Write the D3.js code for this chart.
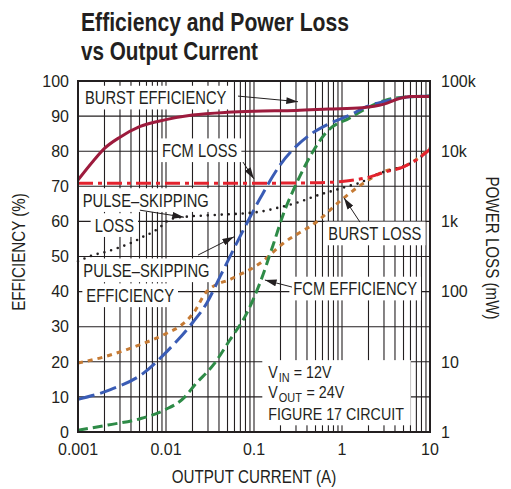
<!DOCTYPE html>
<html>
<head>
<meta charset="utf-8">
<script src="https://cdn.jsdelivr.net/npm/d3@7"></script>
<style>
  body { margin: 0; background: #fff; }
  svg text { font-family: "Liberation Sans", Arial, sans-serif; fill: #231f20; }
  .tick-label { font-size: 16px; }
</style>
</head>
<body>
<div id="chart"></div>
<script>
// Eixos
const currentTicks = [0.001, 0.01, 0.1, 1, 10];
const currentTickLabels = ["0.001", "0.01", "0.1", "1", "10"];
const efficiencyTicks = [0, 10, 20, 30, 40, 50, 60, 70, 80, 90, 100];
const lossTicks = [1, 10, 100, 1000, 10000, 100000];
const lossTickLabels = ["1", "10", "100", "1k", "10k", "100k"];

// Sèries: [corrent (A), eficiència (%)]
const burstEfficiency = [[0.001,71.8],[0.0015,77.3],[0.002,80.8],[0.003,84],[0.005,87],[0.01,89],[0.02,90.3],[0.05,91.1],[0.1,91.4],[0.3,91.6],[0.7,92],[1.7,92.4],[3,93.4],[4.5,95],[6,95.6],[10,95.6]];
const pulseSkippingEfficiency = [[0.001,9.3],[0.0023,12],[0.0055,16.7],[0.0102,22.9],[0.0204,31.4],[0.029,36.7],[0.041,44.2],[0.0755,57.5],[0.117,66.5],[0.197,76],[0.305,81.5],[0.45,85],[0.67,87.5],[1.23,90.3],[1.9,92.7],[2.93,94.1],[5.9,95.5],[10,95.7]];
const fcmEfficiency = [[0.001,0.5],[0.0022,2],[0.0053,3.9],[0.0097,6.3],[0.0164,10],[0.0212,13.4],[0.0345,19.1],[0.0531,26.2],[0.0826,33.8],[0.117,42.5],[0.166,53.5],[0.215,62],[0.306,71],[0.47,80],[0.67,85.5],[1.23,89.5],[1.9,92.2],[3.2,94.6],[5.9,95.5],[10,95.7]];

// Sèries: [corrent (A), pèrdua (mW)]
const fcmLoss = [[0.001,3500],[0.1,3500],[0.5,3550],[1,3700],[1.5,3950],[2,4250],[3,5000],[5,6000],[7,7500],[10,10700]];
const pulseSkippingLoss = [[0.001,270],[0.0015,332],[0.0021,370],[0.0031,436],[0.0043,514],[0.0055,606],[0.0072,713],[0.0087,841],[0.0102,1000],[0.0122,1107],[0.017,1167],[0.035,1232],[0.117,1375],[0.2,1600],[0.33,1900],[0.5,2300],[0.8,2750],[1.2,3200],[1.6,3550],[2.5,4700],[4,5600],[6,6700],[10,10500]];
const burstLoss = [[0.001,9.6],[0.002,11.8],[0.0044,16.4],[0.0102,25.5],[0.015,33.4],[0.0204,49],[0.029,100],[0.0576,156],[0.117,253],[0.215,488],[0.516,990],[1.035,2130],[1.75,3490],[2.95,5100],[4.97,6010],[7.7,8350],[10,11000]];

// Etiquetes: [corrent, eficiència] de la línia base del text
const labels = [
    { lines: ["BURST EFFICIENCY"], at: [0.0012, 93.4] },
    { lines: ["FCM LOSS"], at: [0.009, 78.4] },
    { lines: ["PULSE–SKIPPING", "LOSS"], at: [0.00113, 64.2], indent: [0, 12] },
    { lines: ["PULSE–SKIPPING", "EFFICIENCY"], at: [0.00115, 44.2], indent: [0, 3] },
    { lines: ["BURST LOSS"], at: [0.699, 54.7] },
    { lines: ["FCM EFFICIENCY"], at: [0.28, 39] }
];
// Condicions: [text principal, subíndex, resta] i línia base en eficiència
const conditions = [
    { parts: ["V", "IN", "= 12V"], at: 15.3 },
    { parts: ["V", "OUT", "= 24V"], at: 9.6 },
    { parts: ["FIGURE 17 CIRCUIT"], at: 3.4 }
];
const conditionsCurrent = 0.1454;
// Fletxes: de [corrent, eficiència] a [corrent, eficiència]
const arrows = [
    [[0.0658, 95.7], [0.316, 94.1]],
    [[0.075, 76.9], [0.1, 72.1]],
    [[0.00505, 63.2], [0.016, 61.2]],
    [[0.0231, 50.4], [0.0593, 55.6]],
    [[1.6, 59.8], [1.054, 66.7]],
    [[0.27, 41.3], [0.133, 43.3]]
];

const W = 511, H = 489;
const margin = { top: 81, right: 81, bottom: 57, left: 78 };
const width = W - margin.left - margin.right;
const height = H - margin.top - margin.bottom;

// Text estret amb escala horitzontal (no hi ha font condensada instal·lada).
// Torna l'amplada i la caixa (en coordenades del pare).
function narrowText(parent, tx, ty, str, size, f, transform) {
    const wrap = parent.append("g").attr("transform", (transform || `translate(${tx},${ty})`) + ` scale(${f},1)`);
    const el = wrap.append("text").attr("font-size", size).text(str);
    const b = el.node().getBBox();
    return { width: b.width * f, top: ty + b.y, height: b.height, el };
}

const svg = d3.select("#chart").append("svg").attr("width", W).attr("height", H);

// Títol
const title = svg.append("g").attr("font-weight", "bold").attr("font-size", 26);
title.append("text").attr("x", 81).attr("y", 31).attr("textLength", 268).attr("lengthAdjust", "spacingAndGlyphs").text("Efficiency and Power Loss");
title.append("text").attr("x", 81).attr("y", 60).attr("textLength", 177).attr("lengthAdjust", "spacingAndGlyphs").text("vs Output Current");

const g = svg.append("g").attr("transform", `translate(${margin.left},${margin.top})`);

const x = d3.scaleLog().domain([0.001, 10]).range([0, width]);
const y = d3.scaleLinear().domain([0, 100]).range([height, 0]);
const yLoss = d3.scaleLog().domain([1, 100000]).range([height, 0]);

// Graella
const minor = [];
for (let e = -3; e < 1; e++) for (let k = 2; k <= 9; k++) minor.push(k * Math.pow(10, e));
g.append("g").selectAll("line").data(minor.concat(currentTicks)).join("line")
    .attr("x1", d => x(d)).attr("x2", d => x(d)).attr("y1", 0).attr("y2", height)
    .attr("stroke", "#231f20").attr("stroke-width", 1.1);
g.append("g").selectAll("line").data(efficiencyTicks).join("line")
    .attr("x1", 0).attr("x2", width).attr("y1", d => y(d)).attr("y2", d => y(d))
    .attr("stroke", "#231f20").attr("stroke-width", 1.1);

const boxLayer = g.append("g");
const curveLayer = g.append("g");
const textLayer = g.append("g");

const line = (sy) => d3.line().x(d => x(d[0])).y(d => sy(d[1])).curve(d3.curveMonotoneX);

const series = [
    { data: burstLoss, sy: yLoss, color: "#c67b35", dash: "5,5", w: 3 },
    { data: fcmEfficiency, sy: y, color: "#2e8b47", dash: "10,5", w: 3 },
    { data: pulseSkippingEfficiency, sy: y, color: "#3a5cb5", dash: "17,6", w: 3 },
    { data: pulseSkippingLoss, sy: yLoss, color: "#231f20", dash: "0,7", w: 2.6, cap: "round" },
    { data: fcmLoss, sy: yLoss, color: "#e3232e", dash: "15,5,4,5", w: 3 },
    { data: burstEfficiency, sy: y, color: "#9d1b3d", dash: null, w: 3 }
];
series.forEach(s => {
    curveLayer.append("path")
        .attr("d", line(s.sy)(s.data))
        .attr("fill", "none")
        .attr("stroke", s.color)
        .attr("stroke-width", s.w)
        .attr("stroke-dasharray", s.dash)
        .attr("stroke-linecap", s.cap || "butt");
});

// Etiquetes amb fons blanc
labels.forEach(l => {
    l.lines.forEach((t, i) => {
        const tx = x(l.at[0]) + (l.indent ? l.indent[i] : 0);
        const ty = y(l.at[1]) + i * 25;
        const r = narrowText(textLayer, tx, ty, t, 18, 0.82);
        boxLayer.append("rect").attr("x", tx - 4).attr("y", r.top - 2).attr("width", r.width + 8).attr("height", r.height + 4).attr("fill", "#fff");
    });
});

// Caixa de condicions (cada tros és un text separat)
const cond = textLayer.append("g");
const condLeft = x(conditionsCurrent);
let condRight = 0, condTop = Infinity, condBottom = 0;
conditions.forEach(c => {
    let cx = condLeft;
    const by = y(c.at);
    c.parts.forEach((p, i) => {
        const r = narrowText(cond, cx, i === 1 ? by + 4 : by, p, i === 1 ? 13 : 17, 0.84);
        cx += r.width + (i === 1 ? 4 : 0.5);
        condTop = Math.min(condTop, r.top);
        condBottom = Math.max(condBottom, r.top + r.height);
    });
    condRight = Math.max(condRight, cx);
});
boxLayer.append("rect").attr("x", condLeft - 6).attr("y", condTop - 3).attr("width", condRight - condLeft + 12).attr("height", condBottom - condTop + 5).attr("fill", "#fff");

// Fletxes
svg.append("defs").append("marker")
    .attr("id", "arrowhead").attr("viewBox", "0 0 10 6").attr("refX", 10).attr("refY", 3)
    .attr("markerWidth", 12).attr("markerHeight", 7).attr("markerUnits", "userSpaceOnUse").attr("orient", "auto")
    .append("path").attr("d", "M0,0L10,3L0,6Z").attr("fill", "#231f20");
textLayer.selectAll(".arrow").data(arrows).join("line")
    .attr("class", "arrow")
    .attr("x1", d => x(d[0][0])).attr("y1", d => y(d[0][1]))
    .attr("x2", d => x(d[1][0])).attr("y2", d => y(d[1][1]))
    .attr("stroke", "#231f20").attr("stroke-width", 1)
    .attr("marker-end", "url(#arrowhead)");

// Marc
g.append("rect").attr("width", width).attr("height", height).attr("fill", "none").attr("stroke", "#231f20").attr("stroke-width", 2);

// Etiquetes dels eixos
g.append("g").selectAll("text").data(efficiencyTicks).join("text")
    .attr("class", "tick-label").attr("x", -9).attr("y", d => y(d)).attr("dy", "0.36em")
    .attr("text-anchor", "end").text(d => d);
g.append("g").selectAll("text").data(lossTicks).join("text")
    .attr("class", "tick-label").attr("x", width + 11).attr("y", d => yLoss(d)).attr("dy", "0.36em")
    .text((d, i) => lossTickLabels[i]);
g.append("g").selectAll("text").data(currentTicks).join("text")
    .attr("class", "tick-label").attr("x", d => x(d)).attr("y", height + 23)
    .attr("text-anchor", "middle").text((d, i) => currentTickLabels[i]);

const axisTitles = svg.append("g");
narrowText(axisTitles, 0, 0, "OUTPUT CURRENT (A)", 18.5, 0.82, `translate(${margin.left + width / 2},483)`).el.attr("text-anchor", "middle");
narrowText(axisTitles, 0, 0, "EFFICIENCY (%)", 18.5, 0.82, "translate(25,252) rotate(-90)").el.attr("text-anchor", "middle");
narrowText(axisTitles, 0, 0, "POWER LOSS (mW)", 18.5, 0.82, "translate(486,248) rotate(90)").el.attr("text-anchor", "middle");
</script>
</body>
</html>
